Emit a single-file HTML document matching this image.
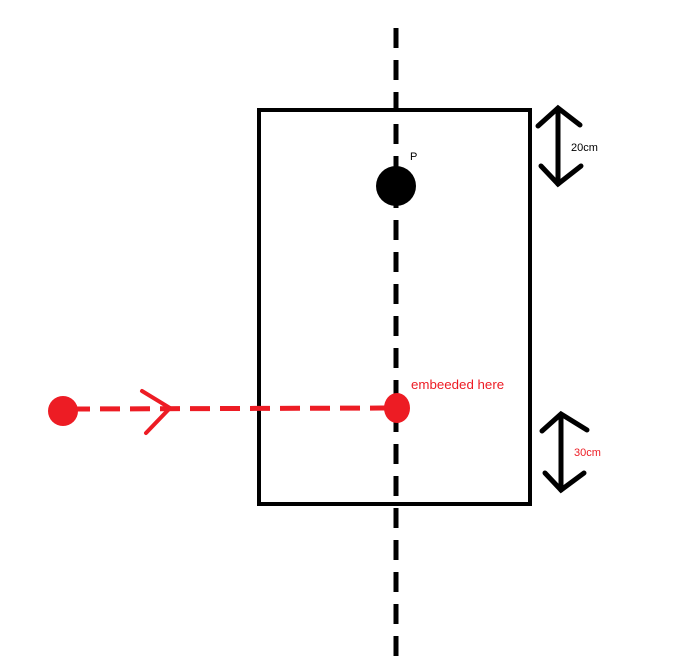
<!DOCTYPE html>
<html><head><style>html,body{margin:0;padding:0;background:#fff}svg{display:block}</style></head>
<body>
<svg width="686" height="667" xmlns="http://www.w3.org/2000/svg">
<rect width="686" height="667" fill="#fff"/>
<line x1="396" y1="28" x2="396" y2="667" stroke="#000" stroke-width="5" stroke-dasharray="20,12"/>
<rect x="259" y="110" width="271" height="394" fill="none" stroke="#000" stroke-width="4"/>
<circle cx="396" cy="186" r="20" fill="#000"/>
<text x="410" y="160" font-family="Liberation Sans, sans-serif" font-size="11" fill="#000">P</text>
<g stroke="#000" stroke-width="5" fill="none" stroke-linecap="round">
<line x1="558" y1="110" x2="558" y2="184"/>
<polyline points="538,126 558,108 580,125"/>
<polyline points="541,166 558,184 581,166"/>
<line x1="561" y1="415" x2="561" y2="490"/>
<polyline points="542,431 561,414 587,430"/>
<polyline points="545,473 561,490 584,473"/>
</g>
<text x="571" y="151" font-family="Liberation Sans, sans-serif" font-size="11" fill="#000">20cm</text>
<text x="574" y="456" font-family="Liberation Sans, sans-serif" font-size="11" fill="#ed1c24">30cm</text>
<text x="411" y="389" font-family="Liberation Sans, sans-serif" font-size="13.3" fill="#ed1c24">embeeded here</text>
<line x1="70" y1="409" x2="390" y2="408" stroke="#ed1c24" stroke-width="5" stroke-dasharray="20,10"/>
<polyline points="142,391 170,408 146,433" stroke="#ed1c24" stroke-width="4" fill="none" stroke-linecap="round"/>
<circle cx="63" cy="411" r="15" fill="#ed1c24"/>
<ellipse cx="397" cy="408" rx="13" ry="15" fill="#ed1c24"/>
</svg>
</body></html>
